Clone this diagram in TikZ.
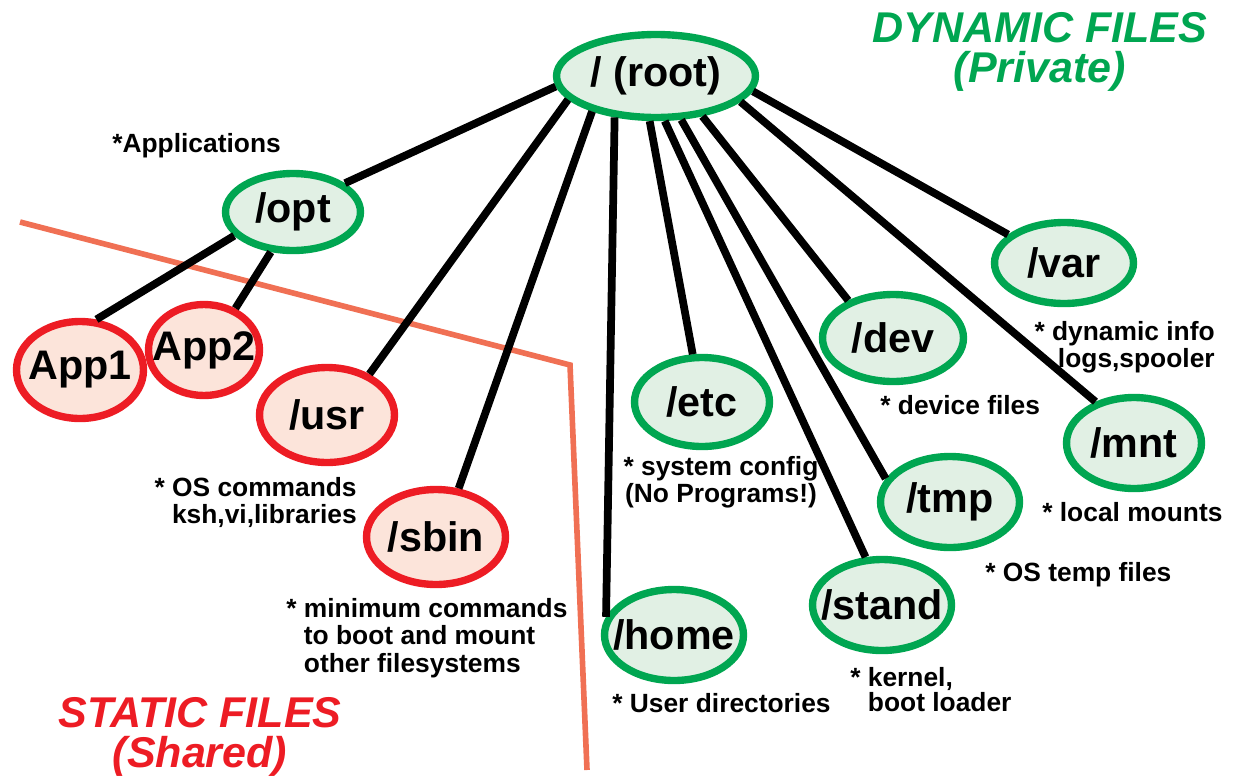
\documentclass[tikz,border=0pt]{standalone}
\usepackage{fontspec}
\setmainfont{Liberation Sans}
\usetikzlibrary{shapes.geometric}

\definecolor{dyngreen}{RGB}{0,166,81}
\definecolor{dynfill}{RGB}{225,240,228}
\definecolor{statred}{RGB}{237,28,36}
\definecolor{statfill}{RGB}{252,228,218}
\definecolor{divider}{RGB}{240,112,84}

\newcommand{\fsname}[1]{\makebox[0pt]{#1}}

\tikzset{
  dyndir/.style={ellipse, draw=dyngreen, fill=dynfill, line width=4.2pt, inner sep=0pt,
    font=\bfseries\fontsize{23.5}{24}\selectfont},
  statdir/.style={dyndir, draw=statred, fill=statfill},
  note/.style={inner sep=0pt, font=\bfseries\fontsize{15}{15.6}\selectfont},
  title/.style={inner sep=0pt, align=center, font=\bfseries\itshape\fontsize{24.5}{22.7}\selectfont},
  branch/.style={line width=4.4pt},
}

\begin{document}
\begin{tikzpicture}[x=0.02cm, y=-0.02cm]
\useasboundingbox (0,0) rectangle (1233,781);

% static / dynamic boundary
\draw[divider, line width=3.2pt] (20,222) -- (570,365) -- (587,770);

% directories
\node[dyndir, minimum width=3.98cm, minimum height=1.66cm] (root) at (656,76) {\fsname{/ (root)}};
\node[dyndir, minimum width=2.7cm, minimum height=1.54cm] (opt) at (293,212) {\fsname{/opt}};
\node[statdir, minimum width=2.54cm, minimum height=1.94cm] (app1) at (80,370) {\fsname{App1}};
\node[statdir, minimum width=2.22cm, minimum height=1.82cm] (app2) at (204,350) {\fsname{App2}};
\node[statdir, minimum width=2.7cm, minimum height=1.9cm] (usr) at (327,415) {\fsname{/usr}};
\node[statdir, minimum width=2.78cm, minimum height=1.9cm] (sbin) at (436,537) {\fsname{/sbin}};
\node[dyndir, minimum width=2.7cm, minimum height=1.78cm] (etc) at (702,402) {\fsname{/etc}};
\node[dyndir, minimum width=2.78cm, minimum height=1.82cm] (home) at (674,635) {\fsname{/home}};
\node[dyndir, minimum width=2.82cm, minimum height=1.74cm] (dev) at (893,338) {\fsname{/dev}};
\node[dyndir, minimum width=2.78cm, minimum height=1.62cm] (var) at (1064,263) {\fsname{/var}};
\node[dyndir, minimum width=2.7cm, minimum height=1.82cm] (mnt) at (1134,443) {\fsname{/mnt}};
\node[dyndir, minimum width=2.78cm, minimum height=1.82cm] (tmp) at (950,502) {\fsname{/tmp}};
\node[dyndir, minimum width=2.78cm, minimum height=1.82cm] (stand) at (882,605) {\fsname{/stand}};

% branches
\draw[branch] (root.186) -- (opt.29);
\draw[branch] (root.195) -- (usr.44);
\draw[branch] (root.209) -- (sbin.65);
\draw[branch] (root.225) -- (home.165);
\draw[branch] (root.262) -- (etc.101);
\draw[branch] (root.281) -- (stand.109);
\draw[branch] (root.300) -- (tmp.160);
\draw[branch] (root.319) -- (dev.140);
\draw[branch] (root.343) -- (mnt.133);
\draw[branch] (root.351) -- (var.153);
\draw[branch] (opt.202) -- (app1.72);
\draw[branch] (opt.241) -- (app2.53);

% notes
\node[note, anchor=base west] (optnote) at (112,152) {*Applications};
\node[note, anchor=north east, align=right] (usrnote) at (357,477) {* OS commands\\ksh,vi,libraries};
\node[note, anchor=north west, align=left] (sbinnote) at (286,598)
  {* minimum commands\\\hphantom{* }to boot and mount\\\hphantom{* }other filesystems};
\node[note, anchor=north west, align=left] (standnote) at (850,667) {* kernel,\\[-1.2pt]\hphantom{* }boot loader};
\node[note, anchor=north, align=center] (etcnote) at (721,456) {* system config\\(No Programs!)};
\node[note, anchor=base west] (homenote) at (612,712) {* User directories};
\node[note, anchor=base west] (devnote) at (880,414) {* device files};
\node[note, anchor=base west] (tmpnote) at (985,581) {* OS temp files};
\node[note, anchor=base west] (mntnote) at (1042,521) {* local mounts};
\node[note, anchor=north east, align=right] (varnote) at (1215,321) {* dynamic info\\logs,spooler};

% titles
\node[title, text=dyngreen, anchor=north] (dyntitle) at (1040,12) {DYNAMIC FILES\\(Private)};
\node[title, text=statred, anchor=north] (stattitle) at (200,697) {STATIC FILES\\(Shared)};
\end{tikzpicture}
\end{document}
